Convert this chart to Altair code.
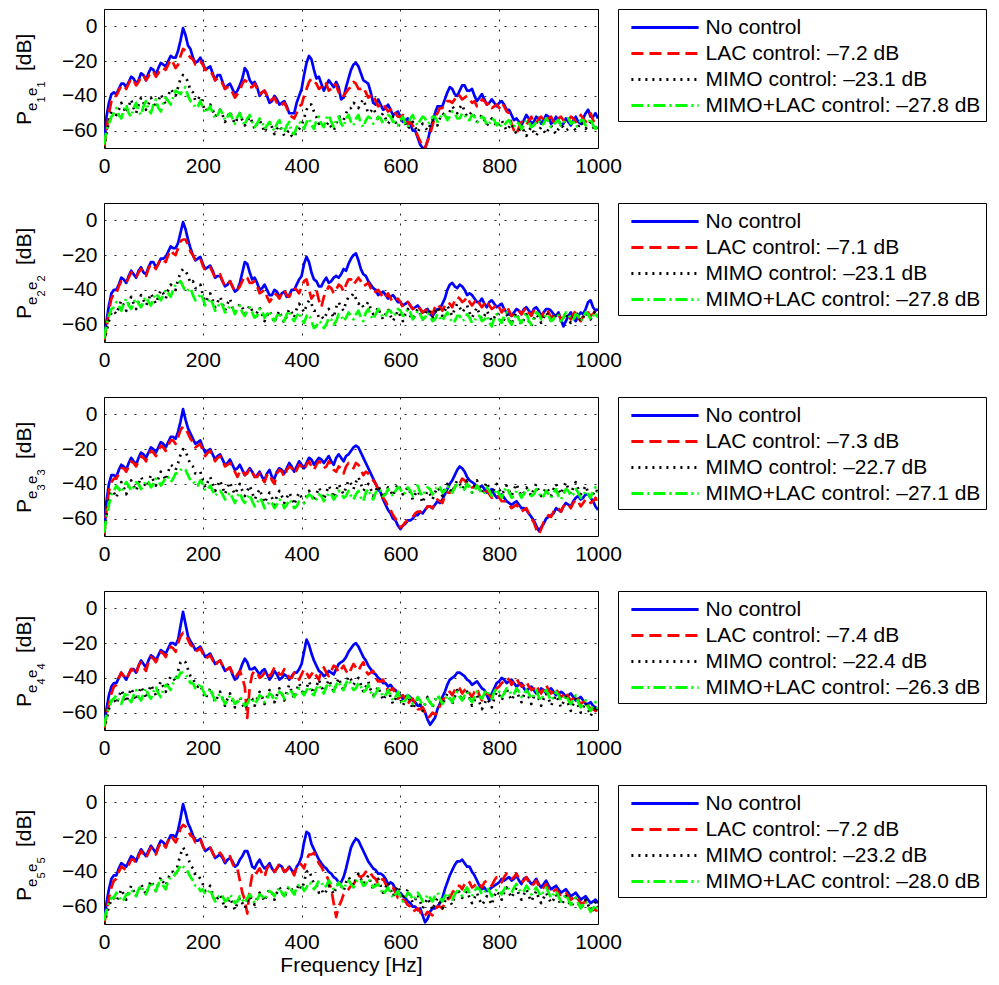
import altair as alt
import pandas as pd

FONT = "Liberation Sans"

FREQ = list(range(0, 1001, 5))

SERIES = ["No control", "LAC control", "MIMO control", "MIMO+LAC control"]
COLORS = ["#0000ff", "#ff0000", "#000000", "#00ff00"]
DASHES = [[1, 0], [12, 6], [2, 5], [12, 4, 2, 4]]

# noise reduction numbers shown in the legends (LAC, MIMO, MIMO+LAC)
REDUCTIONS = [
    ["–7.2", "–23.1", "–27.8"],
    ["–7.1", "–23.1", "–27.8"],
    ["–7.3", "–22.7", "–27.1"],
    ["–7.4", "–22.4", "–26.3"],
    ["–7.2", "–23.2", "–28.0"],
]
SENSOR_INDEX = ["1", "2", "3", "4", "5"]

X_TICKS = [0, 200, 400, 600, 800, 1000]
Y_TICKS = [-60, -40, -20, 0]

# values in dB, every 5 Hz from 0 to 1000 Hz (one row = 100 Hz)
# ---------------- panel 1 ----------------
B1 = [-70, -52, -44, -39, -38, -39, -36, -33, -33, -35, -32, -29, -30, -33, -31, -27, -28, -31, -27, -24,
      -25, -28, -24, -21, -22, -23, -20, -17, -18, -18, -14, -8, -1, -5, -11, -13, -18, -21, -20, -18,
      -21, -25, -24, -23, -27, -31, -28, -28, -32, -36, -34, -33, -36, -39, -37, -34, -30, -24, -26, -31,
      -33, -32, -35, -40, -38, -37, -40, -44, -43, -40, -42, -45, -44, -43, -46, -50, -50, -50, -44, -40,
      -36, -28, -21, -17, -19, -25, -30, -29, -33, -37, -34, -31, -33, -35, -32, -35, -42, -41, -35, -30,
      -25, -22, -21, -23, -27, -31, -32, -33, -38, -44, -45, -42, -45, -48, -47, -45, -48, -51, -50, -49,
      -52, -55, -54, -53, -56, -60, -60, -64, -68, -70, -70, -66, -60, -55, -50, -46, -46, -46, -42, -38,
      -35, -36, -39, -40, -37, -34, -34, -37, -37, -36, -40, -43, -41, -39, -42, -45, -44, -42, -44, -46,
      -44, -43, -45, -48, -48, -51, -54, -53, -55, -57, -54, -51, -53, -56, -55, -52, -53, -56, -54, -51,
      -52, -56, -55, -52, -54, -57, -56, -53, -55, -57, -54, -52, -55, -56, -53, -50, -48, -52, -52, -50,
      -53]
R1 = [-70, -60, -50, -43, -40, -40, -37, -34, -34, -36, -33, -30, -31, -34, -32, -29, -28, -31, -29, -26,
      -26, -29, -27, -24, -24, -25, -22, -19, -21, -24, -22, -17, -13, -14, -16, -18, -19, -22, -22, -20,
      -22, -25, -25, -25, -28, -31, -30, -30, -33, -36, -35, -35, -38, -41, -39, -37, -33, -31, -32, -35,
      -35, -33, -36, -39, -38, -37, -40, -43, -42, -41, -44, -46, -45, -44, -47, -50, -52, -53, -50, -46,
      -45, -40, -36, -32, -30, -32, -33, -36, -35, -32, -33, -37, -36, -33, -34, -38, -37, -40, -38, -36,
      -35, -32, -33, -36, -36, -35, -38, -41, -40, -39, -43, -46, -45, -44, -47, -49, -48, -47, -50, -52,
      -52, -51, -53, -56, -55, -57, -60, -63, -66, -70, -70, -66, -62, -57, -52, -50, -47, -47, -45, -43,
      -43, -44, -42, -39, -40, -42, -41, -40, -42, -44, -43, -46, -45, -42, -43, -45, -44, -47, -46, -45,
      -47, -44, -46, -49, -50, -56, -60, -62, -58, -55, -56, -57, -54, -52, -55, -56, -53, -52, -54, -55,
      -53, -52, -55, -56, -53, -52, -54, -56, -54, -52, -53, -55, -54, -51, -53, -55, -52, -50, -54, -56,
      -54]
K1 = [-70, -62, -55, -49, -50, -51, -48, -44, -47, -50, -46, -42, -47, -50, -45, -41, -44, -48, -45, -41,
      -44, -47, -43, -39, -42, -45, -40, -36, -38, -40, -35, -30, -28, -29, -32, -37, -38, -43, -42, -40,
      -45, -49, -47, -45, -48, -52, -50, -48, -51, -55, -52, -49, -53, -56, -53, -50, -54, -57, -55, -52,
      -55, -59, -56, -54, -57, -61, -58, -55, -58, -62, -59, -57, -60, -63, -61, -60, -63, -64, -60, -59,
      -57, -53, -48, -45, -45, -49, -52, -56, -55, -58, -57, -55, -58, -60, -56, -52, -52, -54, -50, -47,
      -47, -44, -45, -47, -44, -42, -46, -50, -49, -47, -50, -53, -52, -50, -53, -56, -54, -52, -55, -58,
      -55, -53, -56, -59, -57, -55, -58, -61, -58, -56, -58, -60, -57, -54, -55, -57, -53, -50, -51, -53,
      -49, -46, -48, -50, -47, -45, -49, -52, -51, -49, -52, -55, -53, -51, -54, -57, -55, -53, -55, -58,
      -56, -54, -57, -60, -58, -56, -59, -62, -60, -58, -60, -63, -60, -58, -61, -63, -60, -58, -60, -62,
      -59, -57, -60, -62, -59, -57, -58, -60, -59, -56, -58, -60, -58, -55, -57, -59, -57, -55, -58, -60,
      -57]
G1 = [-68, -60, -56, -52, -50, -47, -51, -53, -48, -45, -50, -52, -47, -44, -49, -51, -46, -43, -48, -50,
      -45, -42, -47, -49, -44, -41, -43, -45, -41, -37, -38, -39, -36, -35, -40, -43, -44, -47, -46, -43,
      -47, -50, -48, -46, -50, -53, -51, -48, -50, -54, -52, -50, -53, -56, -52, -50, -54, -57, -53, -51,
      -55, -58, -56, -53, -55, -59, -57, -55, -58, -60, -56, -54, -59, -61, -57, -55, -61, -62, -58, -55,
      -56, -59, -55, -53, -57, -59, -54, -52, -56, -58, -53, -51, -55, -58, -54, -52, -56, -58, -53, -51,
      -55, -57, -53, -51, -56, -58, -54, -52, -53, -56, -55, -52, -53, -56, -54, -51, -52, -55, -55, -57,
      -54, -52, -56, -58, -53, -51, -55, -57, -54, -52, -53, -56, -55, -52, -52, -55, -53, -50, -51, -54,
      -52, -49, -50, -53, -53, -50, -51, -54, -54, -51, -52, -55, -55, -52, -53, -57, -56, -53, -54, -57,
      -55, -58, -57, -55, -54, -57, -58, -55, -56, -59, -57, -54, -55, -58, -57, -55, -54, -57, -56, -53,
      -55, -58, -57, -55, -54, -57, -56, -53, -53, -56, -55, -58, -57, -54, -54, -57, -56, -53, -57, -59,
      -56]

# ---------------- panel 2 ----------------
B2 = [-70, -58, -49, -42, -40, -40, -37, -33, -34, -36, -32, -29, -31, -33, -29, -27, -30, -31, -27, -24,
      -24, -27, -25, -22, -22, -21, -18, -15, -16, -16, -13, -7, -1, -5, -11, -16, -20, -23, -22, -21,
      -25, -28, -27, -26, -29, -33, -32, -32, -35, -38, -37, -35, -38, -41, -40, -36, -30, -24, -25, -30,
      -34, -33, -36, -40, -39, -37, -40, -43, -43, -40, -41, -44, -42, -41, -44, -43, -40, -40, -37, -34,
      -32, -25, -21, -24, -30, -34, -35, -38, -38, -35, -33, -36, -35, -33, -32, -33, -31, -28, -29, -25,
      -22, -20, -19, -23, -28, -31, -32, -35, -37, -39, -40, -43, -42, -41, -43, -45, -44, -43, -45, -47,
      -47, -49, -48, -47, -49, -51, -50, -49, -51, -53, -52, -51, -54, -55, -53, -51, -51, -48, -45, -40,
      -37, -36, -38, -39, -37, -38, -40, -43, -42, -43, -45, -47, -47, -45, -48, -50, -47, -46, -48, -50,
      -49, -48, -51, -53, -54, -55, -53, -51, -52, -54, -51, -50, -52, -54, -51, -50, -52, -55, -53, -51,
      -51, -52, -54, -55, -53, -57, -61, -58, -55, -53, -56, -58, -55, -53, -54, -51, -47, -46, -50, -52,
      -51]
R2 = [-70, -62, -52, -45, -42, -42, -38, -35, -35, -36, -33, -30, -31, -33, -30, -28, -30, -32, -28, -25,
      -26, -28, -25, -22, -23, -24, -20, -17, -19, -20, -16, -12, -11, -11, -14, -18, -20, -23, -23, -22,
      -26, -29, -28, -27, -30, -33, -32, -31, -35, -38, -37, -35, -38, -41, -40, -38, -35, -32, -33, -36,
      -36, -35, -38, -42, -41, -40, -44, -47, -45, -42, -43, -45, -42, -40, -43, -44, -41, -39, -40, -42,
      -38, -35, -34, -40, -45, -43, -40, -46, -50, -44, -41, -38, -39, -42, -40, -37, -38, -41, -37, -34,
      -34, -37, -35, -33, -35, -38, -37, -36, -39, -42, -41, -40, -42, -45, -44, -42, -45, -47, -46, -45,
      -47, -50, -48, -47, -49, -51, -50, -49, -51, -53, -52, -50, -52, -54, -50, -48, -50, -52, -49, -47,
      -48, -50, -46, -44, -45, -47, -46, -44, -47, -49, -47, -45, -48, -50, -48, -46, -49, -51, -50, -48,
      -50, -53, -51, -49, -52, -55, -54, -52, -52, -54, -52, -50, -53, -55, -52, -51, -54, -56, -53, -51,
      -53, -56, -55, -53, -54, -57, -56, -54, -55, -57, -54, -52, -56, -58, -55, -53, -53, -55, -54, -52,
      -53]
K2 = [-70, -64, -58, -53, -52, -54, -50, -46, -49, -52, -48, -44, -48, -51, -47, -43, -46, -49, -46, -42,
      -45, -48, -44, -40, -42, -45, -40, -37, -38, -40, -34, -30, -28, -29, -32, -36, -35, -39, -39, -37,
      -43, -47, -45, -42, -46, -50, -47, -44, -48, -52, -48, -45, -50, -53, -51, -48, -50, -54, -52, -49,
      -52, -56, -53, -50, -54, -58, -55, -52, -55, -59, -55, -52, -56, -59, -55, -51, -53, -56, -51, -48,
      -50, -53, -49, -46, -48, -52, -52, -56, -55, -57, -54, -51, -53, -56, -50, -47, -50, -52, -47, -44,
      -44, -42, -45, -48, -47, -50, -49, -47, -51, -54, -53, -50, -54, -57, -54, -51, -55, -58, -55, -52,
      -55, -58, -54, -51, -55, -57, -54, -51, -54, -57, -54, -51, -53, -56, -53, -50, -52, -55, -52, -49,
      -52, -55, -51, -48, -50, -53, -51, -49, -53, -56, -53, -50, -54, -57, -55, -52, -55, -58, -56, -53,
      -56, -59, -57, -54, -57, -60, -56, -53, -57, -60, -57, -54, -58, -61, -57, -54, -56, -59, -56, -53,
      -55, -58, -56, -53, -55, -58, -56, -53, -57, -59, -56, -53, -55, -58, -56, -53, -55, -57, -54, -52,
      -54]
G2 = [-68, -60, -55, -51, -50, -47, -49, -52, -48, -45, -49, -51, -47, -45, -48, -50, -46, -44, -47, -49,
      -45, -42, -44, -46, -43, -40, -42, -44, -40, -37, -36, -35, -38, -41, -40, -39, -43, -46, -45, -42,
      -45, -49, -47, -45, -48, -52, -50, -47, -49, -53, -52, -49, -50, -54, -51, -49, -53, -55, -52, -50,
      -53, -56, -55, -51, -52, -56, -54, -52, -56, -58, -55, -53, -57, -58, -54, -52, -56, -58, -55, -53,
      -57, -59, -55, -54, -58, -62, -61, -58, -59, -62, -60, -56, -57, -60, -58, -54, -55, -58, -56, -53,
      -55, -57, -54, -52, -56, -58, -53, -51, -55, -57, -54, -51, -53, -56, -55, -52, -52, -55, -54, -51,
      -52, -55, -54, -51, -53, -57, -55, -52, -54, -57, -56, -53, -55, -58, -57, -54, -56, -58, -55, -53,
      -56, -59, -58, -55, -55, -58, -57, -54, -56, -59, -58, -55, -55, -58, -57, -55, -59, -61, -56, -54,
      -57, -59, -55, -53, -58, -60, -56, -54, -57, -59, -55, -53, -58, -60, -56, -53, -54, -57, -57, -54,
      -55, -58, -57, -54, -55, -58, -56, -53, -54, -57, -57, -54, -55, -58, -56, -53, -54, -57, -55, -53,
      -56]

# ---------------- panel 3 ----------------
B3 = [-70, -50, -40, -35, -35, -36, -32, -29, -30, -32, -28, -25, -27, -29, -25, -22, -23, -25, -22, -19,
      -20, -22, -19, -16, -17, -19, -16, -13, -13, -14, -10, -4, 3, -3, -8, -11, -14, -17, -16, -15,
      -19, -22, -21, -20, -23, -26, -24, -23, -26, -29, -28, -26, -29, -32, -31, -29, -32, -35, -33, -31,
      -33, -36, -35, -33, -36, -38, -34, -32, -36, -37, -33, -31, -32, -34, -31, -28, -30, -33, -30, -27,
      -29, -31, -28, -25, -26, -29, -27, -25, -26, -28, -26, -24, -27, -29, -25, -23, -25, -27, -24, -23,
      -21, -19, -18, -19, -22, -25, -28, -31, -34, -37, -40, -43, -45, -49, -52, -55, -57, -60, -61, -64,
      -66, -64, -63, -61, -61, -60, -58, -58, -56, -57, -55, -53, -53, -54, -52, -50, -51, -49, -46, -43,
      -40, -38, -35, -32, -30, -31, -33, -36, -38, -39, -40, -42, -42, -41, -43, -45, -44, -43, -46, -48,
      -47, -46, -48, -50, -51, -52, -51, -50, -52, -54, -54, -55, -57, -59, -61, -64, -67, -65, -63, -60,
      -59, -58, -57, -54, -55, -56, -53, -51, -52, -53, -50, -48, -47, -49, -48, -46, -46, -48, -50, -53,
      -55]
R3 = [-70, -55, -44, -39, -37, -37, -34, -31, -31, -33, -30, -27, -28, -30, -27, -24, -25, -27, -23, -21,
      -22, -24, -21, -18, -19, -21, -18, -15, -15, -17, -13, -9, -7, -8, -11, -14, -16, -19, -18, -17,
      -21, -24, -22, -21, -24, -27, -25, -24, -27, -30, -29, -28, -30, -33, -36, -33, -32, -35, -34, -31,
      -33, -36, -36, -34, -37, -39, -35, -34, -38, -40, -34, -32, -33, -36, -32, -30, -31, -34, -32, -29,
      -30, -32, -29, -27, -30, -32, -29, -27, -28, -31, -30, -27, -29, -32, -33, -30, -31, -34, -30, -28,
      -30, -31, -28, -29, -32, -35, -33, -34, -36, -38, -40, -43, -45, -48, -50, -53, -55, -58, -60, -63,
      -65, -64, -62, -61, -60, -59, -57, -56, -56, -57, -55, -53, -53, -54, -51, -49, -50, -51, -47, -45,
      -45, -44, -42, -40, -40, -37, -38, -40, -40, -42, -42, -41, -43, -45, -45, -44, -46, -48, -47, -46,
      -48, -50, -50, -50, -52, -54, -53, -52, -54, -56, -55, -54, -57, -60, -62, -66, -69, -66, -62, -60,
      -58, -59, -56, -54, -54, -56, -53, -51, -52, -54, -51, -49, -50, -53, -51, -49, -49, -51, -50, -48,
      -52]
K3 = [-70, -58, -50, -44, -45, -48, -43, -39, -42, -46, -42, -38, -41, -44, -40, -36, -39, -42, -39, -35,
      -38, -41, -37, -33, -35, -38, -33, -29, -30, -32, -28, -23, -20, -21, -25, -29, -30, -34, -34, -33,
      -38, -42, -39, -36, -40, -44, -41, -38, -42, -46, -42, -39, -43, -46, -43, -40, -44, -47, -44, -41,
      -45, -49, -46, -43, -47, -51, -48, -45, -48, -52, -47, -44, -47, -51, -48, -45, -48, -52, -48, -45,
      -48, -51, -47, -44, -46, -50, -46, -42, -45, -49, -45, -41, -44, -48, -44, -40, -43, -46, -42, -38,
      -40, -43, -39, -36, -40, -44, -42, -40, -43, -47, -44, -41, -44, -48, -45, -42, -44, -47, -43, -40,
      -43, -46, -44, -42, -45, -49, -46, -44, -47, -51, -47, -44, -46, -49, -45, -42, -44, -47, -43, -40,
      -43, -45, -41, -38, -40, -43, -41, -38, -42, -45, -41, -38, -42, -45, -42, -39, -43, -46, -43, -40,
      -43, -46, -44, -41, -44, -47, -43, -40, -44, -47, -45, -42, -44, -47, -43, -40, -44, -47, -45, -42,
      -44, -47, -43, -40, -43, -46, -42, -39, -43, -46, -42, -39, -43, -46, -44, -41, -45, -48, -46, -43,
      -45]
G3 = [-68, -59, -52, -46, -44, -41, -43, -45, -42, -39, -41, -44, -42, -39, -40, -43, -41, -38, -39, -42,
      -40, -37, -38, -41, -39, -36, -36, -39, -37, -34, -34, -32, -31, -32, -35, -38, -38, -41, -41, -38,
      -40, -44, -43, -41, -44, -47, -45, -44, -46, -49, -47, -45, -48, -51, -47, -45, -49, -51, -48, -46,
      -50, -53, -51, -48, -50, -54, -53, -50, -51, -54, -52, -49, -50, -54, -52, -49, -51, -54, -53, -50,
      -50, -51, -48, -46, -47, -50, -49, -46, -47, -50, -48, -45, -46, -49, -47, -44, -45, -48, -47, -44,
      -47, -49, -46, -44, -48, -50, -45, -43, -47, -49, -45, -43, -44, -47, -46, -43, -45, -47, -44, -42,
      -43, -46, -45, -42, -44, -47, -43, -41, -45, -47, -44, -42, -43, -46, -44, -41, -42, -45, -44, -41,
      -43, -45, -42, -40, -41, -44, -43, -40, -42, -45, -44, -41, -43, -46, -45, -42, -44, -47, -46, -43,
      -46, -48, -44, -42, -45, -48, -47, -44, -45, -48, -46, -43, -44, -47, -46, -43, -45, -48, -47, -44,
      -46, -48, -45, -43, -47, -49, -46, -43, -44, -47, -46, -43, -45, -48, -47, -44, -46, -48, -44, -42,
      -45]

# ---------------- panel 4 ----------------
B4 = [-70, -58, -50, -45, -43, -43, -40, -37, -39, -41, -38, -35, -35, -37, -33, -30, -32, -34, -30, -27,
      -28, -30, -27, -24, -25, -26, -23, -20, -20, -21, -18, -10, -2, -9, -16, -19, -21, -24, -23, -22,
      -25, -28, -27, -26, -29, -32, -31, -30, -33, -36, -35, -34, -38, -41, -40, -36, -32, -29, -31, -35,
      -35, -34, -36, -38, -36, -35, -38, -41, -39, -36, -38, -41, -40, -38, -39, -41, -39, -37, -37, -35,
      -32, -25, -18, -21, -26, -30, -33, -36, -37, -39, -38, -36, -37, -38, -35, -32, -31, -30, -28, -25,
      -23, -21, -20, -22, -25, -28, -30, -33, -35, -37, -38, -40, -41, -43, -43, -45, -44, -46, -47, -49,
      -50, -52, -51, -50, -51, -53, -54, -56, -56, -57, -60, -64, -67, -65, -63, -58, -55, -51, -48, -44,
      -41, -40, -39, -37, -37, -38, -39, -41, -42, -44, -43, -42, -44, -46, -47, -50, -53, -49, -46, -43,
      -42, -40, -41, -43, -42, -41, -43, -45, -44, -43, -46, -48, -46, -45, -47, -49, -48, -46, -47, -49,
      -47, -46, -48, -50, -49, -48, -49, -51, -50, -49, -51, -53, -52, -51, -53, -55, -55, -54, -56, -57,
      -58]
R4 = [-70, -62, -55, -49, -45, -44, -40, -37, -39, -41, -38, -35, -36, -38, -33, -31, -34, -36, -31, -28,
      -29, -31, -28, -25, -26, -28, -24, -22, -23, -25, -20, -16, -14, -15, -18, -21, -22, -25, -24, -23,
      -26, -29, -28, -27, -30, -33, -31, -30, -33, -36, -35, -34, -37, -40, -38, -36, -40, -45, -63, -45,
      -38, -36, -37, -40, -39, -37, -36, -39, -37, -34, -35, -38, -38, -35, -37, -40, -40, -37, -39, -41,
      -38, -35, -37, -40, -38, -36, -39, -41, -36, -34, -37, -39, -36, -33, -34, -37, -35, -33, -36, -38,
      -35, -32, -34, -36, -33, -31, -36, -38, -37, -36, -40, -42, -42, -41, -45, -47, -47, -46, -50, -52,
      -51, -50, -52, -55, -53, -52, -55, -58, -58, -57, -60, -63, -62, -60, -61, -60, -56, -53, -51, -49,
      -48, -50, -47, -45, -46, -49, -47, -46, -49, -51, -48, -46, -50, -53, -51, -49, -50, -52, -48, -46,
      -45, -43, -42, -40, -41, -44, -42, -40, -43, -45, -44, -42, -45, -47, -46, -44, -47, -49, -46, -44,
      -47, -49, -48, -46, -49, -51, -50, -48, -51, -53, -52, -50, -53, -55, -54, -53, -56, -58, -58, -59,
      -62]
K4 = [-70, -64, -58, -53, -52, -55, -51, -47, -50, -54, -50, -46, -49, -53, -49, -45, -48, -52, -48, -44,
      -47, -50, -46, -42, -45, -48, -43, -39, -40, -42, -36, -31, -30, -31, -35, -39, -40, -44, -45, -44,
      -48, -52, -49, -46, -50, -54, -51, -48, -52, -56, -52, -49, -53, -57, -54, -51, -55, -58, -54, -51,
      -52, -56, -52, -48, -51, -55, -51, -47, -50, -54, -50, -46, -49, -53, -48, -44, -48, -52, -47, -43,
      -47, -50, -46, -42, -46, -49, -45, -41, -45, -48, -45, -41, -44, -48, -44, -40, -44, -47, -43, -39,
      -41, -44, -42, -40, -44, -48, -45, -42, -47, -50, -48, -45, -49, -53, -50, -47, -51, -55, -52, -49,
      -52, -56, -53, -50, -54, -58, -55, -52, -55, -59, -55, -51, -54, -57, -53, -50, -52, -56, -52, -49,
      -52, -55, -51, -47, -50, -53, -51, -48, -52, -56, -53, -50, -54, -58, -55, -52, -54, -57, -52, -48,
      -50, -53, -49, -46, -50, -53, -50, -47, -51, -54, -50, -47, -51, -55, -51, -48, -52, -56, -52, -49,
      -52, -56, -53, -50, -53, -57, -54, -51, -55, -59, -55, -52, -56, -60, -57, -54, -58, -62, -59, -56,
      -60]
G4 = [-68, -61, -57, -53, -52, -50, -53, -55, -51, -48, -52, -54, -50, -47, -51, -53, -49, -46, -50, -52,
      -48, -45, -49, -51, -47, -44, -45, -47, -43, -40, -40, -37, -37, -38, -40, -43, -43, -46, -46, -43,
      -47, -50, -49, -46, -50, -53, -51, -49, -52, -55, -53, -50, -52, -55, -54, -51, -53, -56, -55, -52,
      -52, -55, -53, -50, -51, -54, -52, -49, -50, -53, -51, -48, -49, -52, -50, -47, -48, -51, -49, -46,
      -48, -50, -47, -45, -49, -50, -46, -44, -47, -49, -45, -43, -46, -48, -44, -42, -46, -47, -43, -41,
      -44, -47, -46, -43, -45, -48, -47, -44, -48, -51, -49, -46, -48, -51, -50, -47, -50, -53, -51, -48,
      -52, -55, -53, -50, -52, -55, -54, -51, -53, -56, -55, -52, -54, -56, -53, -50, -52, -55, -53, -50,
      -52, -54, -50, -48, -51, -53, -50, -48, -52, -54, -51, -48, -50, -52, -49, -47, -50, -52, -48, -46,
      -48, -51, -49, -46, -47, -50, -49, -46, -48, -51, -50, -47, -49, -52, -50, -47, -51, -53, -49, -47,
      -50, -53, -51, -48, -50, -53, -52, -50, -53, -55, -52, -50, -54, -57, -55, -53, -57, -59, -56, -54,
      -58]

# ---------------- panel 5 ----------------
B5 = [-70, -58, -50, -44, -42, -42, -38, -35, -36, -37, -34, -31, -32, -34, -30, -27, -29, -31, -28, -25,
      -27, -29, -25, -22, -23, -25, -22, -19, -19, -20, -16, -9, -1, -6, -12, -15, -19, -22, -22, -21,
      -25, -28, -27, -26, -29, -32, -31, -30, -32, -35, -33, -32, -34, -37, -36, -33, -31, -28, -28, -32,
      -37, -38, -35, -33, -36, -38, -37, -35, -38, -40, -38, -36, -37, -40, -39, -37, -39, -41, -37, -35,
      -31, -23, -17, -18, -24, -27, -30, -33, -35, -37, -38, -40, -41, -43, -44, -46, -46, -43, -38, -32,
      -26, -23, -21, -22, -25, -28, -31, -34, -36, -38, -39, -41, -41, -42, -44, -47, -46, -47, -50, -52,
      -52, -54, -55, -57, -58, -60, -60, -62, -61, -65, -69, -67, -63, -61, -61, -60, -58, -55, -50, -46,
      -42, -39, -36, -34, -34, -33, -35, -37, -37, -40, -42, -45, -48, -50, -49, -51, -50, -49, -48, -47,
      -46, -44, -45, -44, -43, -45, -44, -42, -45, -47, -44, -43, -45, -47, -46, -44, -47, -49, -47, -45,
      -48, -50, -49, -48, -50, -52, -51, -50, -52, -54, -53, -52, -54, -56, -55, -54, -56, -58, -57, -56,
      -58]
R5 = [-70, -63, -55, -49, -45, -44, -40, -37, -38, -39, -36, -33, -33, -35, -31, -28, -30, -32, -29, -26,
      -28, -30, -26, -23, -24, -26, -22, -19, -21, -23, -20, -15, -13, -14, -16, -19, -20, -23, -22, -21,
      -25, -28, -27, -26, -29, -32, -30, -29, -31, -34, -32, -31, -35, -38, -38, -45, -52, -56, -64, -50,
      -42, -43, -40, -38, -41, -43, -38, -36, -37, -40, -38, -35, -37, -40, -39, -37, -39, -42, -37, -35,
      -36, -38, -33, -30, -30, -29, -32, -35, -37, -40, -42, -45, -50, -58, -66, -60, -57, -53, -52, -50,
      -48, -47, -45, -42, -43, -42, -40, -39, -41, -43, -44, -47, -45, -44, -47, -49, -50, -49, -52, -55,
      -54, -56, -57, -59, -60, -63, -62, -61, -63, -66, -65, -63, -64, -65, -62, -60, -60, -61, -58, -56,
      -55, -52, -50, -48, -48, -50, -47, -45, -46, -49, -48, -46, -47, -49, -46, -45, -47, -48, -45, -43,
      -44, -46, -43, -41, -42, -44, -43, -41, -44, -46, -45, -43, -46, -48, -47, -45, -48, -50, -49, -47,
      -50, -52, -51, -50, -52, -54, -53, -52, -54, -56, -55, -54, -56, -58, -58, -57, -60, -62, -62, -61,
      -65]
K5 = [-70, -65, -60, -56, -55, -57, -54, -50, -53, -56, -52, -48, -51, -54, -51, -47, -50, -53, -49, -45,
      -48, -51, -47, -43, -46, -48, -44, -40, -40, -42, -35, -30, -26, -28, -32, -36, -38, -42, -42, -44,
      -47, -51, -50, -48, -53, -57, -55, -53, -57, -61, -58, -55, -58, -62, -58, -55, -58, -61, -57, -54,
      -56, -59, -55, -52, -54, -57, -53, -50, -52, -56, -52, -49, -51, -55, -51, -48, -50, -53, -50, -47,
      -50, -46, -40, -39, -43, -47, -47, -52, -50, -53, -51, -48, -50, -53, -49, -46, -48, -51, -46, -43,
      -45, -48, -44, -41, -44, -47, -45, -42, -46, -50, -47, -44, -48, -52, -49, -46, -50, -54, -51, -48,
      -52, -56, -53, -50, -54, -58, -56, -53, -57, -61, -58, -55, -58, -62, -58, -55, -58, -61, -57, -54,
      -57, -59, -54, -50, -52, -55, -53, -51, -55, -58, -55, -52, -56, -59, -57, -54, -56, -59, -54, -51,
      -53, -56, -52, -49, -52, -55, -52, -49, -53, -56, -53, -50, -54, -57, -54, -51, -55, -58, -55, -52,
      -55, -58, -56, -53, -56, -59, -57, -54, -57, -60, -58, -55, -58, -61, -59, -56, -59, -62, -60, -57,
      -60]
G5 = [-68, -62, -58, -55, -55, -52, -54, -57, -56, -53, -53, -50, -52, -54, -50, -48, -51, -53, -49, -46,
      -49, -51, -47, -44, -48, -50, -45, -43, -43, -41, -39, -36, -37, -38, -40, -43, -45, -48, -48, -51,
      -50, -53, -52, -50, -54, -57, -55, -53, -54, -57, -56, -53, -55, -58, -57, -54, -56, -58, -55, -53,
      -55, -58, -56, -53, -54, -56, -53, -51, -52, -54, -51, -49, -52, -54, -50, -48, -51, -53, -49, -47,
      -48, -51, -49, -46, -47, -50, -48, -45, -46, -49, -48, -45, -47, -50, -49, -46, -48, -50, -47, -45,
      -47, -49, -46, -44, -45, -48, -47, -44, -46, -49, -48, -47, -50, -53, -51, -49, -52, -55, -53, -51,
      -54, -57, -55, -52, -53, -56, -55, -52, -54, -57, -56, -53, -55, -57, -54, -52, -55, -57, -54, -52,
      -54, -56, -53, -51, -52, -54, -51, -49, -52, -54, -51, -49, -50, -53, -52, -49, -51, -54, -52, -50,
      -51, -53, -50, -48, -50, -52, -49, -47, -50, -52, -51, -48, -50, -53, -51, -49, -52, -54, -51, -49,
      -52, -55, -53, -51, -54, -57, -55, -53, -56, -59, -57, -55, -58, -61, -59, -57, -60, -63, -61, -59,
      -62]

PANELS = [
    [B1, R1, K1, G1],
    [B2, R2, K2, G2],
    [B3, R3, K3, G3],
    [B4, R4, K4, G4],
    [B5, R5, K5, G5],
]
for p, group in enumerate(PANELS):
    for s, vals in enumerate(group):
        if len(vals) != len(FREQ):
            raise SystemExit(f"panel {p + 1} series {s} has {len(vals)} values")

W, H = 494, 139
ONE = pd.DataFrame({"k": [0]})


def title_piece(text, size, px, py):
    # one piece of the rotated y-axis title  P_{e_i e_i} [dB]
    return (
        alt.Chart(ONE)
        .mark_text(text=text, angle=270, fontSize=size, font=FONT, color="black",
                   align="left", baseline="alphabetic")
        .encode(x=alt.value(px), y=alt.value(py))
    )


def make_panel(i):
    red = REDUCTIONS[i]
    labels = [SERIES[0]] + [f"{SERIES[k + 1]}: {red[k]} dB" for k in range(3)]
    rows = []
    for lab, vals in zip(labels, PANELS[i]):
        for f, v in zip(FREQ, vals):
            rows.append({"freq": f, "value": v, "series": lab})
    df = pd.DataFrame(rows)

    legend = alt.Legend(
        title=None, orient="right", offset=20,
        strokeColor="black", fillColor="white", padding=5,
        labelFont=FONT, labelFontSize=21, labelColor="black", labelLimit=0,
        symbolType="M-2.8,0H2.8", symbolSize=576, symbolStrokeWidth=3,
        symbolOffset=28.5, labelOffset=27, rowPadding=2,
    )
    last = i == len(PANELS) - 1
    x = alt.X("freq:Q",
              scale=alt.Scale(domain=[0, 1000], nice=False, zero=False),
              axis=alt.Axis(values=X_TICKS, format="d", labelFlush=False,
                            title="Frequency [Hz]" if last else None,
                            titlePadding=2))
    y = alt.Y("value:Q",
              scale=alt.Scale(domain=[-70, 10], nice=False, zero=False),
              axis=alt.Axis(values=Y_TICKS, title=None, labelFlush=False))
    color = alt.Color("series:N", scale=alt.Scale(domain=labels, range=COLORS),
                      legend=legend, sort=labels)
    dash = alt.StrokeDash("series:N", scale=alt.Scale(domain=labels, range=DASHES),
                          legend=legend, sort=labels)
    layers = []
    for lab in labels:
        layers.append(
            alt.Chart(df)
            .transform_filter(alt.datum.series == lab)
            .mark_line(strokeWidth=2.7, clip=True, strokeJoin="round")
            .encode(x=x, y=y, color=color, strokeDash=dash)
        )
    idx = SENSOR_INDEX[i]
    layers += [
        title_piece("P", 21, -73, 116),
        title_piece("e", 15, -67, 102),
        title_piece(idx, 11, -59, 93.5),
        title_piece("e", 15, -67, 87),
        title_piece(idx, 11, -59, 78.5),
        title_piece("[dB]", 21, -73, 62),
    ]
    return alt.layer(*layers).properties(width=W, height=H)


chart = (
    alt.vconcat(*[make_panel(i) for i in range(5)], spacing=25)
    .resolve_scale(color="independent", strokeDash="independent")
    .resolve_legend(color="independent", strokeDash="independent")
    .properties(padding={"left": 5, "top": 0, "right": 0, "bottom": 0})
    .configure_axis(
        grid=True, gridColor="black", gridDash=[2, 8], gridWidth=1, gridOpacity=0.85,
        domain=False, ticks=False, labelFont=FONT, labelFontSize=21,
        labelColor="black", labelPadding=7, titleFont=FONT, titleFontSize=21,
        titleColor="black", titleFontWeight="normal",
    )
    .configure_view(stroke="black", strokeWidth=1)
)

chart.save("out.html", embed_options={"renderer": "svg", "actions": False})
